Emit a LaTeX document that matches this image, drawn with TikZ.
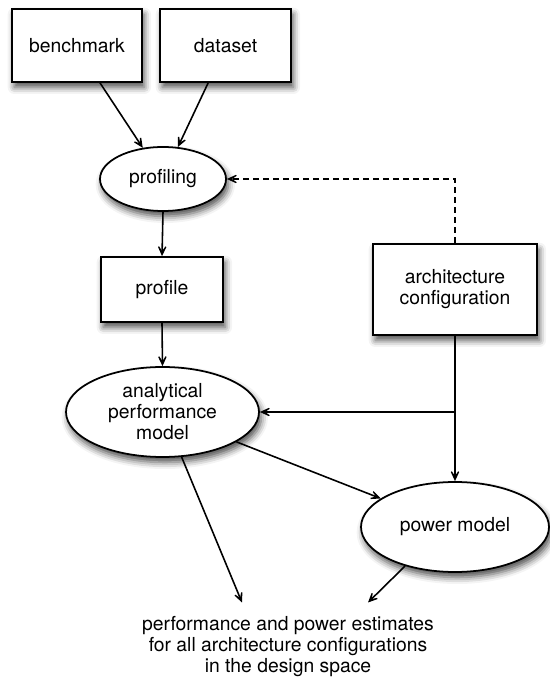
\documentclass[tikz,border=0pt]{standalone}
\usepackage{fontspec}
\setmainfont{TeX Gyre Heros}
\usetikzlibrary{arrows.meta,shapes.geometric,shadows.blur}

\tikzset{
  arr/.style={line width=1.35pt,-{Stealth[length=0.5cm,width=0.46cm,inset=0.35cm]}},
  shade/.style={blur shadow={shadow xshift=0.07cm,shadow yshift=-0.16cm,
      shadow blur radius=0.2cm,shadow opacity=70}},
  box/.style={draw,rectangle,fill=white,line width=1.5pt,shade,inner sep=0pt,align=center},
  oval/.style={draw,ellipse,fill=white,line width=1.5pt,shade,inner sep=0pt,align=center},
}

\begin{document}
\begin{tikzpicture}[font=\fontsize{16.5}{18}\selectfont]

\useasboundingbox (0,0) rectangle (16.47,20.31);

% ---------------------------
% inputs
% ---------------------------
\node[box,minimum width=3.9cm,minimum height=2.19cm]  (bench) at (2.31,18.945) {benchmark};
\node[box,minimum width=3.93cm,minimum height=2.19cm] (data)  at (6.765,18.945) {dataset};

% ---------------------------
% profiling chain
% ---------------------------
\node[oval,minimum width=3.78cm,minimum height=1.92cm] (prof)    at (4.89,14.94)  {profiling};
\node[box,minimum width=3.66cm,minimum height=1.95cm]  (profile) at (4.86,11.625) {profile};
\node[oval,minimum width=5.79cm,minimum height=2.7cm]  (ana)     at (4.875,7.95)
  {analytical\\performance\\model};

% ---------------------------
% architecture side
% ---------------------------
\node[box,minimum width=4.92cm,minimum height=2.73cm]  (arch)  at (13.65,11.625)
  {architecture\\configuration};
\node[oval,minimum width=5.64cm,minimum height=2.7cm]  (power) at (13.65,4.5) {power model};

\node[align=center,inner sep=0pt] (est) at (8.64,0.92)
  {performance and power estimates\\for all architecture configurations\\in the design space};

% arrows
\draw[arr] ([xshift=0.69cm]bench.south) -- (prof.123);
\draw[arr] ([xshift=-0.52cm]data.south) -- (prof.65);
\draw[arr] (prof.south) -- (profile.north);
\draw[arr] (profile.south) -- (ana.north);
\draw[arr,dash pattern=on 0.18cm off 0.12cm] (arch.north) |- (prof.east);
\draw[arr] (arch.south) -- (power.north);
\draw[arr] (arch.south |- ana.east) -- (ana.east);
\draw[arr] (ana.-22) -- (power.159);
\draw[arr] (ana.-67) -- ([xshift=-1.38cm,yshift=0.4cm]est.north);
\draw[arr] (power.218) -- ([xshift=2.4cm,yshift=0.4cm]est.north);

\end{tikzpicture}
\end{document}
